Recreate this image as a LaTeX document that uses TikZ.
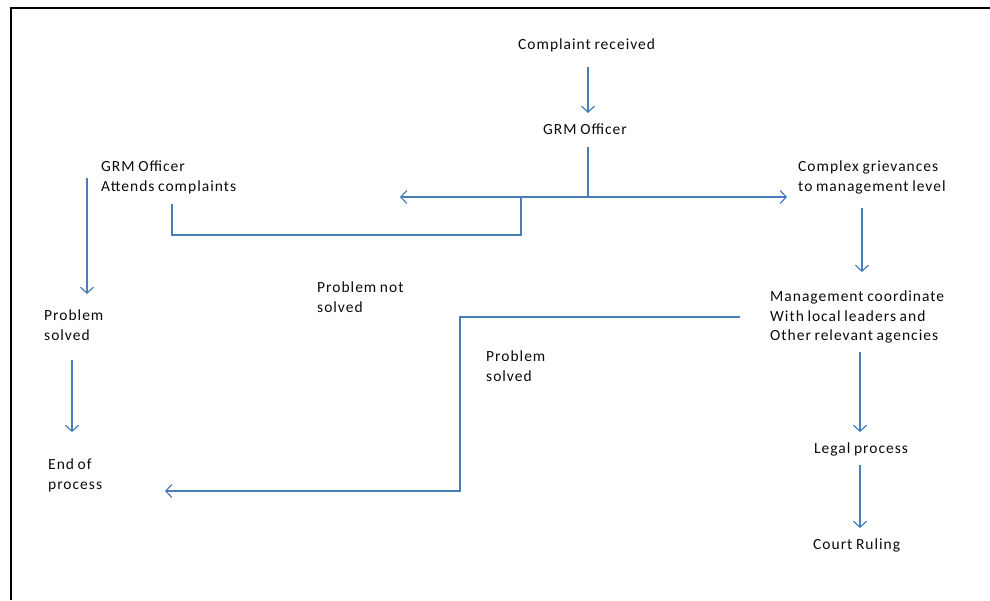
\documentclass[tikz,border=0pt]{standalone}
\usepackage{fontspec}
\setmainfont[LetterSpace=6.5,WordSpace=0.8]{Carlito}
\usetikzlibrary{arrows.meta}
\definecolor{lineblue}{HTML}{4A7EBB}
\definecolor{txt}{HTML}{0A0A0A}
\begin{document}
\begin{tikzpicture}[x=1pt,y=-1pt,
  lbl/.style={anchor=north west, inner sep=0pt, align=left, font=\fontsize{15.5}{19.5}\selectfont, text=txt},
  conn/.style={draw=lineblue, line width=1.2pt},
  arr/.style={conn, -{Straight Barb[length=6pt,width=13pt]}}]
\useasboundingbox (0,0) rectangle (990,600);
% frame
\draw[line width=2.2pt, black] (11,600) -- (11,8) -- (990,8);

% nodes
\node[lbl] (n1) at (518,39) {Complaint received};
\node[lbl] (n2) at (543,124) {GRM Officer};
\node[lbl] (n3) at (101,161) {GRM Officer\\Attends complaints};
\node[lbl] (n4) at (44,310) {Problem\\solved};
\node[lbl] (n5) at (48,459) {End of\\process};
\node[lbl] (n6) at (317,282) {Problem not\\solved};
\node[lbl] (n7) at (798,161) {Complex grievances\\to management level};
\node[lbl] (n8) at (770,291) {Management coordinate\\With local leaders and\\Other relevant agencies};
\node[lbl] (n9) at (486,351) {Problem\\solved};
\node[lbl] (n10) at (814,443) {Legal process};
\node[lbl] (n11) at (813,539) {Court Ruling};

% connector points
\coordinate (c1a) at (588,67);   \coordinate (c1b) at (588,113);
\coordinate (c2a) at (588,147);  \coordinate (c2b) at (588,197);
\coordinate (c2r) at (787,197);  \coordinate (c2l) at (400,197);
\coordinate (s1) at (521,197);   \coordinate (s2) at (521,235);
\coordinate (s3) at (172,235);   \coordinate (s4) at (172,204);
\coordinate (l1a) at (87,178);   \coordinate (l1b) at (87,294);
\coordinate (l2a) at (72,360);   \coordinate (l2b) at (72,432);
\coordinate (r1a) at (862,208);  \coordinate (r1b) at (862,272);
\coordinate (m1) at (740,317);   \coordinate (m2) at (460,317);
\coordinate (m3) at (460,491);   \coordinate (m4) at (165,491);
\coordinate (r2a) at (860,352);  \coordinate (r2b) at (860,432);
\coordinate (r3a) at (860,465);  \coordinate (r3b) at (860,528);

% connectors
\draw[arr] (c1a) -- (c1b);
\draw[conn] (c2a) -- (c2b);
\draw[arr] (c2b) -- (c2r);
\draw[arr] (c2b) -- (c2l);
\draw[conn] (s1) -- (s2) -- (s3) -- (s4);
\draw[arr] (l1a) -- (l1b);
\draw[arr] (l2a) -- (l2b);
\draw[arr] (r1a) -- (r1b);
\draw[arr] (m1) -- (m2) -- (m3) -- (m4);
\draw[arr] (r2a) -- (r2b);
\draw[arr] (r3a) -- (r3b);
\end{tikzpicture}
\end{document}
